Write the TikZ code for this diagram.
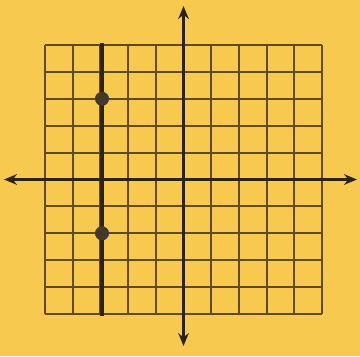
\documentclass[tikz,border=0pt]{standalone}
\usetikzlibrary{arrows.meta}
\definecolor{paper}{RGB}{247,201,78}
\definecolor{ink}{RGB}{45,35,20}
\definecolor{gridink}{RGB}{95,75,30}
\tikzset{
  gridline/.style={draw=gridink, line width=1.6pt},
  axisline/.style={draw=ink, line width=1.9pt, {Stealth[length=11pt,width=9pt]}-{Stealth[length=11pt,width=9pt]}},
  thickline/.style={draw=ink, line width=2.6pt},
  dot/.style={circle, fill=ink!90, inner sep=0pt, minimum size=12pt}
}
\begin{document}
\begin{tikzpicture}[x=0.03cm,y=-0.03cm]
\fill[paper] (0,0) rectangle (360,356);
\useasboundingbox (0,0) rectangle (360,356);
% grid 10x10
\foreach \i in {0,...,10} {
  \draw[gridline] ({45+\i*27.7},45) -- ({45+\i*27.7},314);
  \draw[gridline] (45,{45+\i*26.9}) -- (322,{45+\i*26.9});
}
% axes
\coordinate (xl) at (4,179.5);
\coordinate (xr) at (357,179.5);
\coordinate (yt) at (183.5,6);
\coordinate (yb) at (183.5,346);
\draw[axisline] (xl) -- (xr);
\draw[axisline] (yb) -- (yt);
% vertical line x=-3
\coordinate (lt) at (102,43);
\coordinate (lb) at (102,316);
\draw[thickline] (lt) -- (lb);
\node[dot] (p1) at (102,98.8) {};
\node[dot] (p2) at (102,233.3) {};
\end{tikzpicture}
\end{document}
